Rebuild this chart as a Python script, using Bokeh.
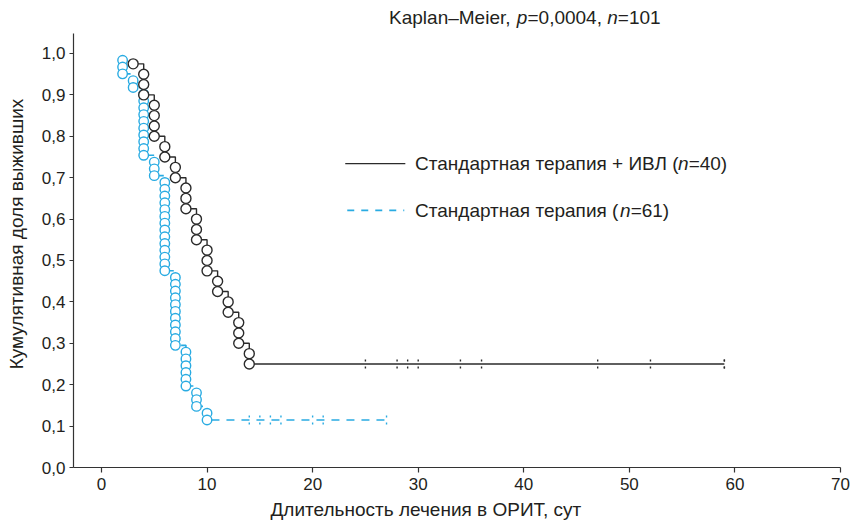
import numpy as np
from bokeh.plotting import figure
from bokeh.models import FixedTicker, Label, CustomJSTickFormatter, Title
from bokeh.embed import file_html
from bokeh.resources import INLINE

# ---------------- data ----------------
ivl_n = 40
ivl_event_days = [3, 4, 4, 4, 5, 5, 5, 5, 6, 6, 7, 7, 8, 8, 8, 9, 9, 9,
                  10, 10, 10, 11, 11, 12, 12, 13, 13, 13, 14, 14]
ivl_censor_days = [25, 28, 29, 30, 34, 36, 47, 52, 59, 59]

std_n = 61
std_event_days = [2] * 3 + [3] * 2 + [4] * 10 + [5] * 3 + [6] * 14 + [7] * 11 + [8] * 6 + [9] * 3 + [10] * 2
std_censor_days = [14, 15, 16, 17, 20, 21, 27]

x_ticks = [0, 10, 20, 30, 40, 50, 60, 70]
y_ticks = [0.0, 0.1, 0.2, 0.3, 0.4, 0.5, 0.6, 0.7, 0.8, 0.9, 1.0]

title_parts = [("Kaplan\u2013Meier, ", "normal"), ("p", "italic"), ("=0,0004, ", "normal"),
               ("n", "italic"), ("=101", "normal")]
legend_ivl_parts = [("Стандартная терапия + ИВЛ (", "normal"), ("n", "italic"), ("=40)", "normal")]
legend_std_parts = [("Стандартная терапия (", "normal"), ("n", "italic"), ("=61)", "normal")]
x_label = "Длительность лечения в ОРИТ, сут"
y_label = "Кумулятивная доля выживших"


def kaplan_meier(n_total, events, censors):
    times = sorted(set(events) | set(censors))
    at_risk = n_total
    s = 1.0
    circ_t, circ_s, step_t, step_s, cens_t, cens_s = [], [], [], [], [], []
    for t in times:
        d = events.count(t)
        c = censors.count(t)
        if d:
            for k in range(1, d + 1):
                circ_t.append(t)
                circ_s.append(s * (1 - k / at_risk))
            s = s * (1 - d / at_risk)
            step_t.append(t)
            step_s.append(s)
        for _ in range(c):
            cens_t.append(t)
            cens_s.append(s)
        at_risk -= d + c
    xs, ys = [step_t[0]], [step_s[0]]
    for i in range(1, len(step_t)):
        xs += [step_t[i], step_t[i]]
        ys += [step_s[i - 1], step_s[i]]
    xs.append(max(censors))
    ys.append(step_s[-1])
    return xs, ys, circ_t, circ_s, cens_t, cens_s


# ---------------- style ----------------
FONT = "Liberation Sans"
TXT = "#231F20"
BLACK = "#2B2B2B"
BLUE = "#29ABE2"
FS = "19px"
TICK_FS = "17px"

p = figure(width=852, height=527, x_range=(-2.65, 70), y_range=(0, 1.128),
           output_backend="svg", toolbar_location=None,
           min_border_left=73, min_border_right=12, min_border_top=0, min_border_bottom=60)
p.outline_line_color = None
p.xgrid.visible = False
p.ygrid.visible = False
p.background_fill_color = "white"
p.border_fill_color = "white"

for ax in (p.xaxis[0], p.yaxis[0]):
    ax.axis_line_color = "#333333"
    ax.axis_line_width = 1.2
    ax.major_tick_line_color = "#333333"
    ax.major_tick_line_width = 1.2
    ax.major_tick_in = 0
    ax.major_tick_out = 5
    ax.minor_tick_line_color = None
    ax.major_label_text_font = FONT
    ax.major_label_text_font_size = TICK_FS
    ax.major_label_text_color = TXT
    ax.axis_label_text_font = FONT
    ax.axis_label_text_font_size = FS
    ax.axis_label_text_font_style = "normal"
    ax.axis_label_text_color = TXT

p.xaxis.ticker = FixedTicker(ticks=x_ticks)
p.xaxis.major_label_standoff = 5
p.yaxis.ticker = FixedTicker(ticks=y_ticks)
p.yaxis.formatter = CustomJSTickFormatter(code="return tick.toFixed(1).replace('.', ',');")
p.yaxis.major_label_standoff = 4
p.yaxis.major_tick_out = 4
p.yaxis.axis_label = y_label
p.yaxis.axis_label_standoff = 12
p.yaxis.bounds = (0, 1.048)

# x-axis caption, shifted left like the original
p.add_layout(Title(text=x_label, align="left", offset=197, standoff=8,
                   text_font=FONT, text_font_size=FS, text_font_style="normal",
                   text_color=TXT), "below")

# ---------------- curves ----------------
bx, by, bct, bcs, bzt, bzs = kaplan_meier(ivl_n, ivl_event_days, ivl_censor_days)
sx, sy, sct, scs, szt, szs = kaplan_meier(std_n, std_event_days, std_censor_days)

p.line(bx, by, line_color=BLACK, line_width=1.4)
p.line(sx, sy, line_color=BLUE, line_width=1.6, line_dash="8 7")

p.scatter(sct, scs, marker="circle", size=9.5, line_color=BLUE, line_width=1.4, fill_color="white")
p.scatter(bct, bcs, marker="circle", size=10, line_color=BLACK, line_width=1.4, fill_color="white")

p.scatter(bzt, bzs, marker="dash", angle=np.pi / 2, size=9, line_color=BLACK, line_width=1.4, line_dash="2 5")
p.scatter(szt, szs, marker="dash", angle=np.pi / 2, size=9, line_color=BLUE, line_width=1.4, line_dash="2 5")

# ---------------- legend ----------------
p.line([23.09, 28.78], [0.734, 0.734], line_color=BLACK, line_width=1.4)
p.line([23.28, 28.68], [0.621, 0.621], line_color=BLUE, line_width=1.6, line_dash="7 7")


def add_parts(parts, x, y, offsets):
    for (txt, style), off in zip(parts, offsets):
        p.add_layout(Label(x=x, y=y, x_offset=off, text=txt,
                           text_font=FONT, text_font_size=FS, text_font_style=style,
                           text_color=TXT, text_baseline="middle", text_align="left"))


add_parts(legend_ivl_parts, 29.7, 0.734, [0, 263, 273.6])
add_parts(legend_std_parts, 29.7, 0.621, [0, 205, 215.6])
add_parts(title_parts, 27.24, 1.087, [0, 127.8, 138.4, 218.2, 228.8])

open("out.html", "w").write(file_html(p, INLINE))
